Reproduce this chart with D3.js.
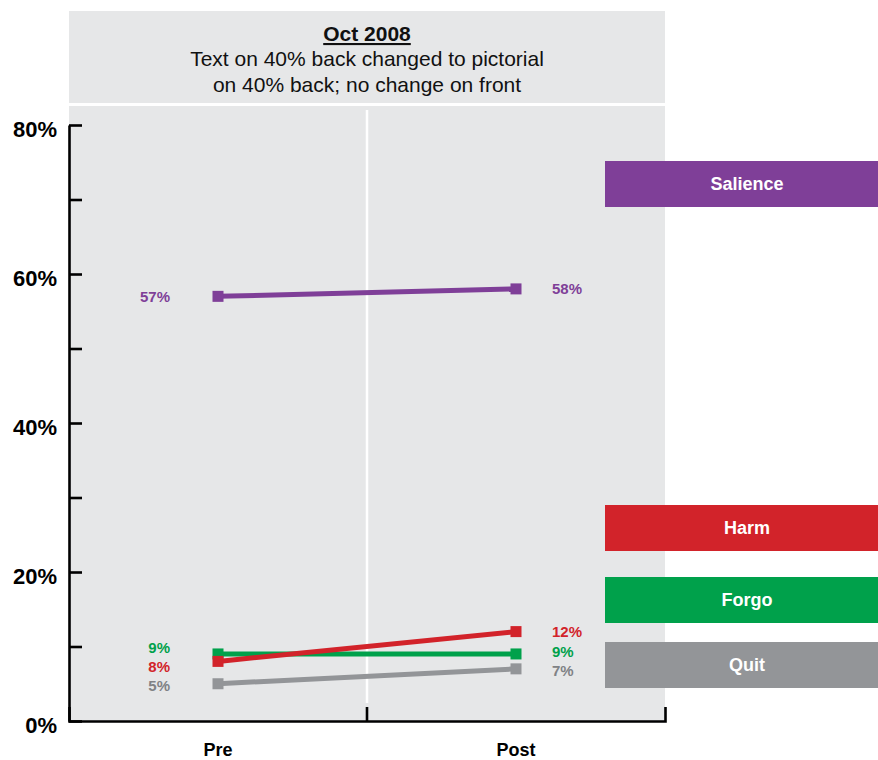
<!DOCTYPE html>
<html>
<head>
<meta charset="utf-8">
<script src="https://cdn.jsdelivr.net/npm/d3@7/dist/d3.min.js"></script>
<style>
  html, body { margin: 0; padding: 0; background: #fff; }
  svg { display: block; font-family: "Liberation Sans", Arial, Helvetica, sans-serif; }
</style>
</head>
<body>
<svg id="chart" width="878" height="760"></svg>
<script>
// ---- data ----
const categories = ["Pre", "Post"];
const seriesNames = ["Salience", "Harm", "Forgo", "Quit"];
const salience = [57, 58];
const harm = [8, 12];
const forgo = [9, 9];
const quit = [5, 7];
const seriesColors = ["#7f3f98", "#d2232a", "#00a14b", "#939598"];
const labelColors = ["#7f3f98", "#d2232a", "#00a14b", "#808285"];
const yTickValues = [0, 10, 20, 30, 40, 50, 60, 70, 80];
const yTickLabels = ["0%", "", "20%", "", "40%", "", "60%", "", "80%"];
const titleLines = ["Oct 2008", "Text on 40% back changed to pictorial", "on 40% back; no change on front"];

const seriesValues = [salience, harm, forgo, quit];
const series = seriesNames.map((name, i) => ({
  name, values: seriesValues[i], color: seriesColors[i], labelColor: labelColors[i]
}));

// ---- layout ----
const svg = d3.select("#chart");
const left = 69, right = 665;
const headerTop = 11, headerBottom = 103;
const panelTop = 106, axisY = 721;

const x = d3.scaleBand().domain(categories).range([left, right]).padding(0);
const y = d3.scaleLinear().domain([0, 80]).range([axisY, 125]);
const cx = d => x(d) + x.bandwidth() / 2;

// header panel
svg.append("rect").attr("x", left).attr("y", headerTop)
  .attr("width", right - left).attr("height", headerBottom - headerTop).attr("fill", "#e6e7e8");
// plot panel
svg.append("rect").attr("x", left).attr("y", panelTop)
  .attr("width", right - left).attr("height", axisY - panelTop).attr("fill", "#e6e7e8");

// title
const title = svg.append("text").attr("text-anchor", "middle").attr("fill", "#111").attr("font-size", 21);
title.append("tspan").attr("x", (left + right) / 2).attr("y", 41)
  .attr("font-weight", "bold").attr("text-decoration", "underline").text(titleLines[0]);
title.append("tspan").attr("x", (left + right) / 2).attr("y", 65.5).text(titleLines[1]);
title.append("tspan").attr("x", (left + right) / 2).attr("y", 91.5).text(titleLines[2]);

// white divider between the two periods
const mid = x(categories[1]);
svg.append("line").attr("x1", mid).attr("x2", mid)
  .attr("y1", panelTop + 4).attr("y2", axisY - 18)
  .attr("stroke", "#fff").attr("stroke-width", 2.5);

// y axis
const yAxis = d3.axisLeft(y)
  .tickValues(yTickValues)
  .tickFormat((d, i) => yTickLabels[i])
  .tickSizeInner(-13).tickSizeOuter(0).tickPadding(12);
const gy = svg.append("g").attr("transform", `translate(${left},0)`).call(yAxis);
gy.select(".domain").attr("stroke", "#000").attr("stroke-width", 2.6);
gy.selectAll(".tick line").attr("stroke", "#000").attr("stroke-width", 2.6);
gy.selectAll(".tick text").attr("font-size", 22).attr("font-weight", "bold")
  .attr("fill", "#000").attr("dy", "0.5em")
  .attr("font-family", "'Liberation Sans', Arial, sans-serif");

// x axis
const xAxis = d3.axisBottom(x).tickSizeInner(0).tickSizeOuter(-14).tickPadding(22);
const gx = svg.append("g").attr("transform", `translate(0,${axisY})`).call(xAxis);
gx.select(".domain").attr("stroke", "#000").attr("stroke-width", 2.6);
gx.selectAll(".tick text").attr("font-size", 18).attr("font-weight", "bold")
  .attr("fill", "#000").attr("font-family", "'Liberation Sans', Arial, sans-serif");
// band boundary ticks
gx.selectAll("line.boundary").data(categories.slice(1)).enter().append("line")
  .attr("class", "boundary")
  .attr("x1", d => x(d)).attr("x2", d => x(d))
  .attr("y1", 0).attr("y2", -14).attr("stroke", "#000").attr("stroke-width", 2.6);

// series lines and markers
const line = d3.line().x((v, i) => cx(categories[i])).y(v => y(v));
const drawOrder = ["Salience", "Quit", "Forgo", "Harm"];
drawOrder.forEach(name => {
  const s = series.find(d => d.name === name);
  const g = svg.append("g");
  g.append("path").attr("d", line(s.values)).attr("fill", "none")
    .attr("stroke", s.color).attr("stroke-width", 5);
  g.selectAll("rect").data(s.values).enter().append("rect")
    .attr("x", (v, i) => cx(categories[i]) - 5.5)
    .attr("y", v => y(v) - 5.5)
    .attr("width", 11).attr("height", 11).attr("fill", s.color);
});

// value labels, spread apart where they would collide
categories.forEach((cat, ci) => {
  const items = series.map(s => ({ s, v: s.values[ci], y: y(s.values[ci]) }))
    .sort((a, b) => a.y - b.y);
  const gap = 19;
  for (let iter = 0; iter < 50; iter++) {
    for (let k = 1; k < items.length; k++) {
      const d = items[k].y - items[k - 1].y;
      if (d < gap) {
        const push = (gap - d) / 2;
        items[k - 1].y -= push;
        items[k].y += push;
      }
    }
  }
  const isPre = ci === 0;
  items.forEach(it => {
    svg.append("text")
      .attr("x", isPre ? cx(cat) - 48 : cx(cat) + 36)
      .attr("y", it.y)
      .attr("dy", "0.36em")
      .attr("text-anchor", isPre ? "end" : "start")
      .attr("font-size", 15).attr("font-weight", "bold")
      .attr("fill", it.s.labelColor)
      .text(it.v + "%");
  });
});

// legend boxes
const legendX = 605, legendW = 273, legendH = 46;
const legendTop = [161, 505, 577, 642];
const lg = svg.append("g").selectAll("g").data(series).enter().append("g")
  .attr("transform", (d, i) => `translate(${legendX},${legendTop[i]})`);
lg.append("rect").attr("width", legendW).attr("height", legendH).attr("fill", d => d.color);
lg.append("text").attr("x", 142).attr("y", legendH / 2).attr("dy", "0.36em")
  .attr("text-anchor", "middle").attr("fill", "#fff")
  .attr("font-size", 18).attr("font-weight", "bold").text(d => d.name);
</script>
</body>
</html>
